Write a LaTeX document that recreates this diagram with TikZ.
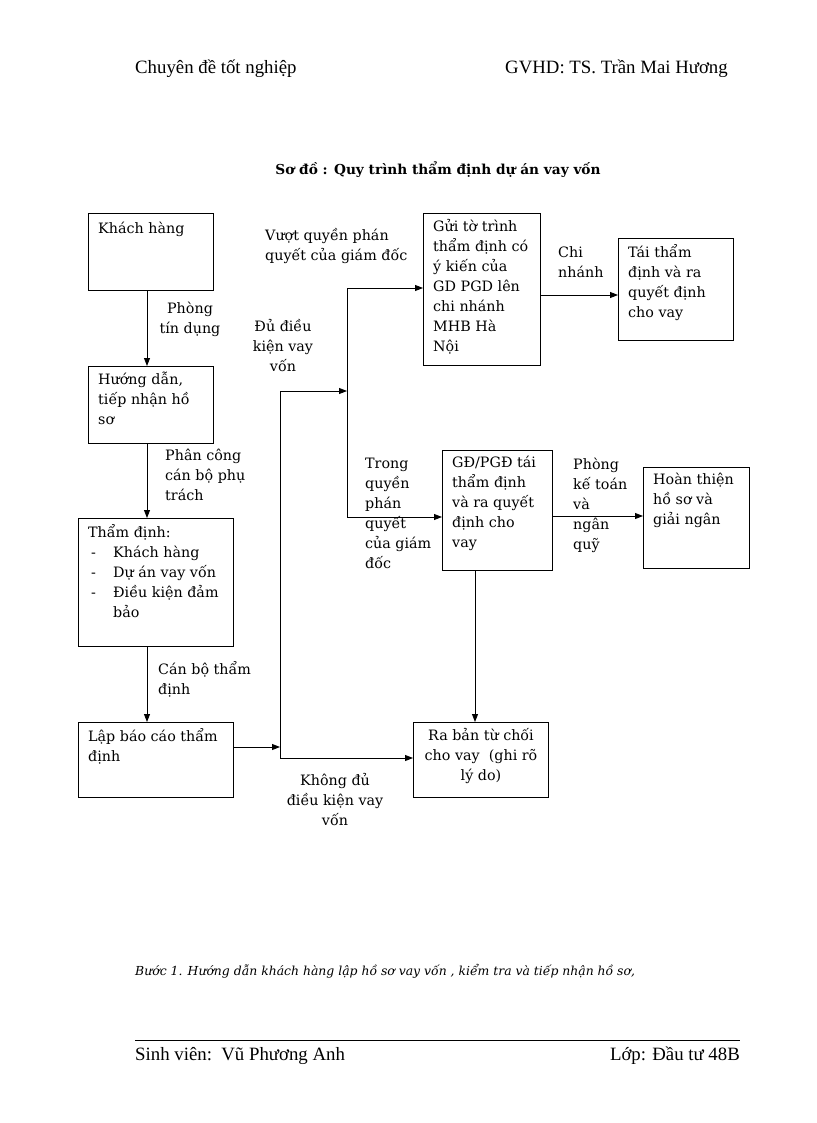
\documentclass[tikz,border=0pt]{standalone}
\usepackage{fontspec}
\setmainfont{Liberation Serif}
\newfontfamily\dvs{DejaVu Serif}
\usetikzlibrary{arrows.meta}
\newcommand\itm[1]{\makebox[25pt][l]{\hspace{3pt}#1}}
\tikzset{
  bx/.style={draw, line width=1pt, inner sep=0pt, anchor=north west},
  tx/.style={inner sep=0pt, align=left, anchor=north west, font=\dvs\fontsize{14.3}{20}\selectfont, execute at begin node=\strut},
  txc/.style={tx, align=center, anchor=north},
  ln/.style={line width=0.9pt},
  arr/.style={ln, -{Triangle[length=8pt,width=6pt]}},
  hdr/.style={inner sep=0pt, font=\fontsize{18.8}{22}\selectfont}
}
\begin{document}
\begin{tikzpicture}[x=1pt,y=-1pt]
\useasboundingbox (0,0) rectangle (816,1123);
% header
\node[hdr, anchor=base west] (h1) at (135,74) {Chuyên đề tốt nghiệp};
\node[hdr, anchor=base east] (h2) at (728,74) {GVHD: TS. Trần Mai Hương};
\node[inner sep=0pt, anchor=base, font=\dvs\bfseries\fontsize{13.7}{16}\selectfont] (title) at (438,175) {Sơ đồ : Quy trình thẩm định dự án vay vốn};
% boxes
\node[bx, minimum width=125pt, minimum height=77pt] (kh) at (88,213) {};
\node[bx, minimum width=125pt, minimum height=77pt] (hd) at (88,366) {};
\node[bx, minimum width=155pt, minimum height=128pt] (td) at (78,518) {};
\node[bx, minimum width=155pt, minimum height=75pt] (lap) at (78,722) {};
\node[bx, minimum width=117pt, minimum height=152pt] (gui) at (423,213) {};
\node[bx, minimum width=115pt, minimum height=102pt] (tai) at (618,238) {};
\node[bx, minimum width=110pt, minimum height=120pt] (gd) at (442,450) {};
\node[bx, minimum width=106pt, minimum height=101pt] (hoan) at (643,467) {};
\node[bx, minimum width=135pt, minimum height=75pt] (ra) at (413,722) {};
% box texts
\node[tx] (kh-t) at (98,219) {Khách hàng};
\node[tx] (hd-t) at (98,372) {Hướng dẫn,\\tiếp nhận hồ\\sơ};
\node[tx] (td-t) at (88,524) {Thẩm định:\\\itm{-}Khách hàng\\\itm{-}Dự án vay vốn\\\itm{-}Điều kiện đảm\\\itm{}bảo};
\node[tx] (lap-t) at (88,728) {Lập báo cáo thẩm\\định};
\node[tx] (gui-t) at (433,219) {Gửi tờ trình\\thẩm định có\\ý kiến của\\GD PGD lên\\chi nhánh\\MHB Hà\\Nội};
\node[tx] (tai-t) at (628,244) {Tái thẩm\\định và ra\\quyết định\\cho vay};
\node[tx] (gd-t) at (452,456) {GĐ/PGĐ tái\\thẩm định\\và ra quyết\\định cho\\vay};
\node[tx] (hoan-t) at (653,473) {Hoàn thiện\\hồ sơ và\\giải ngân};
\node[txc] (ra-t) at (481,728) {Ra bản từ chối\\cho vay\ \ (ghi rõ\\lý do)};
% labels
\node[txc] (l1) at (190,302) {Phòng\\tín dụng};
\node[tx] (l2) at (265,228) {Vượt quyền phán\\quyết của giám đốc};
\node[txc] (l3) at (283,319) {Đủ điều\\kiện vay\\vốn};
\node[tx] (l4) at (558,246) {Chi\\nhánh};
\node[tx] (l5) at (165,449) {Phân công\\cán bộ phụ\\trách};
\node[tx] (l6) at (365,458) {Trong\\quyền\\phán\\quyết\\của giám\\đốc};
\node[tx] (l7) at (573,458) {Phòng\\kế toán\\và\\ngân\\quỹ};
\node[tx] (l8) at (158,661) {Cán bộ thẩm\\định};
\node[txc] (l9) at (335,773) {Không đủ\\điều kiện vay\\vốn};
% junctions
\coordinate (col) at (147,0);
\coordinate (ja) at (280,747);
\coordinate (jb) at (280,758);
\coordinate (jc) at (280,391);
\coordinate (jd) at (347,391);
\coordinate (je) at (347,288);
\coordinate (jf) at (347,517);
\coordinate (jg) at (0,295);
\coordinate (jh) at (0,516);
\coordinate (ji) at (475,0);
% connectors
\draw[arr] (kh.south -| col) -- (hd.north -| col);
\draw[arr] (hd.south -| col) -- (td.north -| col);
\draw[arr] (td.south -| col) -- (lap.north -| col);
\draw[arr] (lap.east |- ja) -- (ja);
\draw[ln] (jc) -- (jb);
\draw[arr] (jb) -- (ra.west |- jb);
\draw[arr] (jc) -- (jd);
\draw[ln] (je) -- (jf);
\draw[arr] (je) -- (gui.west |- je);
\draw[arr] (jf) -- (gd.west |- jf);
\draw[arr] (gui.east |- jg) -- (tai.west |- jg);
\draw[arr] (gd.east |- jh) -- (hoan.west |- jh);
\draw[arr] (gd.south -| ji) -- (ra.north -| ji);
% step text
\node[inner sep=0pt, anchor=base west, font=\dvs\itshape\fontsize{12.4}{15}\selectfont] (step) at (135,975) {Bước 1. Hướng dẫn khách hàng lập hồ sơ vay vốn , kiểm tra và tiếp nhận hồ sơ,};
% footer
\coordinate (fl) at (135,1040);
\coordinate (fr) at (740,1040);
\draw[line width=0.8pt] (fl) -- (fr);
\node[hdr, anchor=base west] (f1) at (135,1060) {Sinh viên:\ \ Vũ Phương Anh};
\node[hdr, anchor=base east] (f2) at (740,1060) {Lớp: Đầu tư 48B};
\end{tikzpicture}
\end{document}
